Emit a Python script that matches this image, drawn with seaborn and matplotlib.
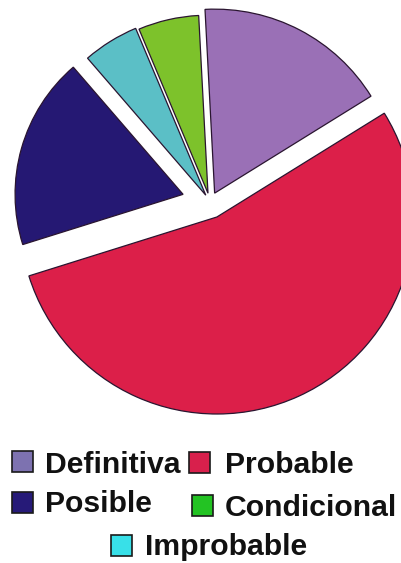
import matplotlib
matplotlib.use("Agg")
import matplotlib.pyplot as plt
from matplotlib.patches import Rectangle
import seaborn as sns

# Share of cases by classification
categories = ["Definitiva", "Probable", "Posible", "Improbable", "Condicional"]
shares = [17.0, 54.0, 18.5, 5.0, 5.5]

slice_colors = {
    "Definitiva": "#9a70b6",
    "Probable": "#dc1f49",
    "Posible": "#251873",
    "Improbable": "#5bbfc6",
    "Condicional": "#7dc22b",
}
key_colors = {
    "Definitiva": "#7d72b0",
    "Probable": "#d8204c",
    "Posible": "#261a78",
    "Condicional": "#23c323",
    "Improbable": "#38e0e8",
}

sns.set_style("white")
plt.rcParams["font.family"] = ["Liberation Sans", "DejaVu Sans"]

W, H = 402, 563
fig = plt.figure(figsize=(W / 100, H / 100), dpi=100)
ax = fig.add_axes([0, 0, 1, 1])

# pie geometry in pixel units (explode offsets are in data units)
base_r = 185
explode_px = [10, 16.5, 28, 8, 9]
wedge_r = [184, 197, 168, 181, 178]

wedges, _ = ax.pie(
    shares,
    colors=[slice_colors[c] for c in categories],
    center=(210, -202),
    radius=base_r,
    explode=explode_px,
    startangle=93,
    counterclock=False,
    wedgeprops=dict(edgecolor="#2a1530", linewidth=0.9),
    frame=True,
)
for w, r in zip(wedges, wedge_r):
    w.set_radius(r)
    w.set_clip_on(True)

ax.set_xlim(0, W)
ax.set_ylim(-H, 0)
ax.set_aspect("equal")
ax.axis("off")

# key below the pie
key_items = [
    ("Definitiva", 12, 451, 45, 473),
    ("Probable", 189, 452, 225, 473),
    ("Posible", 12, 492, 45, 512),
    ("Condicional", 192, 495, 225, 516),
    ("Improbable", 111, 535, 145, 555),
]
for name, sx, sy, tx, ty in key_items:
    ax.add_patch(Rectangle((sx, -(sy + 21)), 21, 21,
                           facecolor=key_colors[name], edgecolor="#1a1a1a",
                           linewidth=1.2, clip_on=False))
    ax.text(tx, -ty, name, fontsize=21.7, fontweight="bold", color="#111111",
            ha="left", va="baseline")

fig.savefig("out.png", dpi=100, facecolor="white")
